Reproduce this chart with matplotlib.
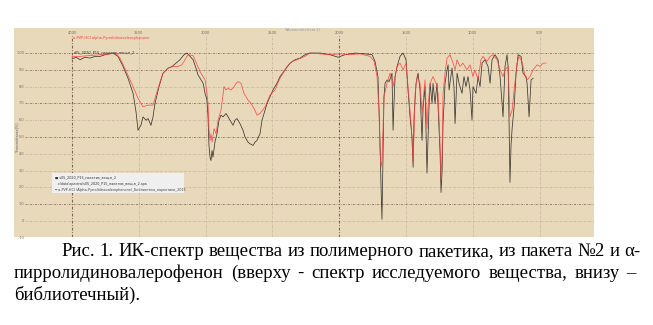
import matplotlib
matplotlib.use("Agg")
import matplotlib.pyplot as plt

# ---------------- data ----------------
black_wn = [4000, 3970, 3940, 3903, 3865, 3828, 3790, 3753, 3693, 3656, 3618, 3581, 3543, 3521,
            3506, 3484, 3469, 3446, 3431, 3409, 3394, 3379, 3349, 3319, 3281, 3251, 3222, 3192,
            3162, 3139, 3117, 3094, 3072, 3057, 3034, 3019, 3004, 2990, 2982, 2975, 2967, 2960,
            2952, 2945, 2930, 2915, 2900, 2885, 2870, 2847, 2832, 2817, 2795, 2780, 2765, 2743,
            2720, 2705, 2683, 2668, 2645, 2630, 2615, 2593, 2578, 2555, 2540, 2518, 2496, 2466,
            2443, 2406, 2368, 2331, 2293, 2256, 2219, 2144, 2069, 2009, 1957, 1882, 1807, 1754,
            1732, 1710, 1695, 1687, 1680, 1672, 1665, 1657, 1642, 1627, 1612, 1605, 1597, 1590,
            1582, 1567, 1545, 1522, 1500, 1485, 1470, 1455, 1447, 1440, 1425, 1410, 1395, 1380,
            1372, 1358, 1343, 1328, 1320, 1305, 1298, 1283, 1268, 1260, 1245, 1238, 1230, 1223,
            1208, 1193, 1185, 1178, 1156, 1141, 1133, 1118, 1103, 1081, 1066, 1051, 1036, 1021,
            1006, 999, 976, 961, 946, 931, 909, 886, 871, 856, 834, 811, 796, 774, 759, 744, 736,
            729, 722, 714, 706, 691, 676, 661, 639, 624, 602, 594, 579, 564, 549]
black_t = [96.5, 97.5, 96, 97.5, 97, 98, 98, 99, 100, 98, 92, 85, 76, 65,
           54, 57, 62, 60, 61, 57, 62, 70, 80, 88, 91, 92, 94, 96,
           99, 100, 98, 96, 91, 87, 84, 82, 76, 72, 62, 45, 38, 36,
           42, 38, 47, 52, 60, 63, 62, 64, 62, 60, 57, 60, 61, 58,
           54, 50, 47, 46, 45, 47, 48, 52, 60, 66, 70, 74, 78, 82,
           86, 90, 94, 96, 97, 99, 100, 100, 99, 97.5, 99, 100, 99.5, 99,
           95, 86, 48, 20, 1, 40, 74, 82, 84, 83, 86, 88, 54, 70,
           86, 92, 98, 100, 96, 78, 62, 50, 32, 62, 82, 88, 78, 48,
           68, 80, 28.5, 68, 82, 70, 82, 70, 82, 68, 40, 17, 30, 58,
           82, 90, 93, 78, 91, 80, 58, 88, 82, 76, 86, 80, 86, 78,
           60, 80, 76, 86, 80, 94, 96, 92, 82, 96, 99, 96, 86, 62, 92, 99, 92,
           60, 23, 45, 55, 68, 88, 99, 98, 88, 86, 82, 62, 84, 85]

red_wn = [4000, 3940, 3865, 3790, 3716, 3678, 3641, 3611, 3588, 3543, 3506, 3469, 3431, 3394,
          3364, 3341, 3319, 3281, 3244, 3207, 3177, 3154, 3132, 3094, 3064, 3042, 3019, 3004,
          2990, 2982, 2975, 2967, 2960, 2952, 2937, 2922, 2907, 2885, 2870, 2862, 2847, 2832,
          2810, 2787, 2772, 2757, 2735, 2713, 2683, 2660, 2638, 2615, 2593, 2555, 2518, 2481,
          2443, 2391, 2353, 2316, 2256, 2219, 2144, 2069, 1994, 1919, 1844, 1769, 1739, 1717,
          1702, 1695, 1687, 1680, 1672, 1665, 1642, 1620, 1605, 1597, 1582, 1567, 1545, 1522,
          1500, 1485, 1470, 1462, 1447, 1440, 1432, 1417, 1395, 1380, 1365, 1358, 1343, 1335,
          1320, 1298, 1275, 1260, 1245, 1238, 1230, 1223, 1208, 1193, 1171, 1148, 1133, 1118,
          1096, 1074, 1044, 1021, 999, 984, 961, 939, 924, 894, 871, 849, 819, 796, 774, 759,
          736, 722, 706, 691, 669, 654, 632, 609, 594, 572, 549, 519, 497, 474, 452]
red_t = [98, 98, 98.5, 99, 99.5, 100, 97, 92, 88, 80, 73, 68, 69, 69,
         77, 83, 88, 91, 92, 92, 93, 96, 99, 98.5, 93, 89, 86, 84,
         76, 70, 55, 48, 52, 47, 55, 52, 60, 66, 75, 80, 78, 79,
         78, 80, 82, 83, 82, 76, 72, 70, 67, 63, 64, 68, 75, 78,
         85, 92, 95, 96, 98, 100, 99.5, 99, 99.5, 99, 99.5, 98, 95, 86,
         65, 42, 32, 36, 55, 74, 82, 88, 84, 80, 86, 92, 94, 90,
         94, 80, 66, 58, 35, 52, 76, 86, 82, 64, 78, 84, 55, 68,
         82, 86, 82, 76, 45, 25, 40, 76, 88, 97, 99, 94, 90, 96,
         92, 94, 90, 93, 86, 90, 84, 96, 98, 95, 98, 99, 96, 90, 86, 90,
         92, 62, 66, 78, 94, 98, 95, 86, 84, 86, 90, 93, 92, 94, 94]

x_ticks = [4000, 3500, 3000, 2500, 2000, 1500, 1000, 500]
y_ticks = [100, 90, 80, 70, 60, 50, 40, 30, 20, 10, 0, -10]
major_x = [4000, 2000]
major_y = [100, 90, 70, 50, 10]

caption_lines = [
    "Рис. 1. ИК-спектр вещества из полимерного пакетика, из пакета №2 и α-",
    "пирролидиновалерофенон (вверху - спектр исследуемого вещества, внизу –",
    "библиотечный).",
]

# ---------------- figure ----------------
W, H = 653, 325
fig = plt.figure(figsize=(W / 100, H / 100), dpi=100)
fig.patch.set_facecolor("white")

def fx(px):
    return px / W

def fy(py):
    return 1 - py / H

BEIGE = "#e9d9bb"
bg = fig.add_axes([fx(14), fy(237), fx(594) - fx(14), fy(28) - fy(237)], zorder=0)
bg.set_facecolor(BEIGE)
bg.set_xticks([])
bg.set_yticks([])
for s in bg.spines.values():
    s.set_visible(False)

ax = fig.add_axes([fx(25), fy(237), fx(594) - fx(25), fy(28) - fy(237)], zorder=1)
ax.set_facecolor("none")
ax.set_xlim(4352, 93)
ax.set_ylim(-9.5, 114.9)
for s in ax.spines.values():
    s.set_visible(False)
ax.set_xticks([])
ax.set_yticks([])

DARK = "#806550"
LIGHT = "#c2b094"
DASH = (0, (2.5, 1.5, 0.8, 1.5))
for t in y_ticks:
    c = DARK if t in major_y else LIGHT
    ax.axhline(t, color=c, lw=0.55, ls=DASH, zorder=1)
    ax.text(4352, t, str(t) + " ", fontsize=2.6, color="#6b6b6b", ha="right", va="center",
            clip_on=False)
for w in x_ticks:
    c = DARK if w in major_x else LIGHT
    lw = 0.8 if w in major_x else 0.55
    ax.plot([w, w], [-9.5, 110], color=c, lw=lw, ls=DASH, zorder=1)
    ax.text(w, 111.8, str(w), fontsize=2.6, color="#6b6b6b", ha="center", va="center")

ax.plot(black_wn, black_t, color="#3a3632", lw=0.55, zorder=3)
ax.plot(red_wn, red_t, color="#ff4040", lw=0.55, zorder=4, alpha=0.9)

# small texts of the spectrum picture
fig.text(fx(303), fy(30), "Wavenumber(cm-1)", fontsize=2.6, color="#8a9ab0",
         ha="center", va="center", zorder=5)
fig.text(fx(17), fy(137), "Transmittance[%]", fontsize=2.4, color="#666666",
         rotation=90, ha="center", va="center", zorder=5)
fig.text(fx(73), fy(38), "a-PVP-HCl alpha-Pyrrolidinovalerophenone", fontsize=2.6,
         color="#ff3a3a", ha="left", va="center", zorder=5)
fig.text(fx(74), fy(52), "s05_2020_P15_пакетик_вещ-в_2", fontsize=2.6,
         color="#333333", ha="left", va="center", zorder=5)

lg = fig.add_axes([fx(52), fy(193), fx(184) - fx(52), fy(173) - fy(193)], zorder=2)
lg.set_facecolor("#efefef")
lg.set_xticks([])
lg.set_yticks([])
for s in lg.spines.values():
    s.set_visible(False)
fig.text(fx(55), fy(177.5), "■ s05_2020_P15_пакетик_вещ-в_2", fontsize=2.4,
         color="#333333", ha="left", va="center", zorder=5)
fig.text(fx(58), fy(183.5), "c:\\data\\spectra\\s05_2020_P15_пакетик_вещ-в_2.spa", fontsize=2.4,
         color="#333333", ha="left", va="center", zorder=5)
fig.text(fx(55), fy(189.5), "━ a-PVP-HCl (Alpha-Pyrrolidinovalerophenone)_Библиотека_наркотики_2015",
         fontsize=2.4, color="#444444", ha="left", va="center", zorder=5)

# ---------------- caption (justified) ----------------
FS = 13.5
FAM = ["Liberation Serif", "DejaVu Serif"]
renderer = fig.canvas.get_renderer()

def width_px(s):
    t = fig.text(0, 0, s, fontsize=FS, family=FAM)
    bb = t.get_window_extent(renderer=renderer)
    t.remove()
    return bb.width

def justify(line, x0, x1, ybase):
    words = line.split(" ")
    ws = [width_px(w) for w in words]
    gap = (x1 - x0 - sum(ws)) / (len(words) - 1)
    x = x0
    for w, wd in zip(words, ws):
        fig.text(fx(x), fy(ybase), w, fontsize=FS, family=FAM, ha="left",
                 va="baseline", color="black")
        x += wd + gap

justify(caption_lines[0], 61, 640, 256)
justify(caption_lines[1], 14, 636, 278)
fig.text(fx(14), fy(300), caption_lines[2], fontsize=FS, family=FAM, ha="left",
         va="baseline", color="black")

fig.savefig("out.png", dpi=100, facecolor="white")
